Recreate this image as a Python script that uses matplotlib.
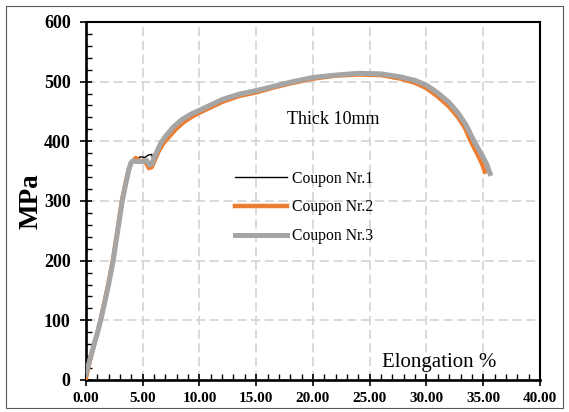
import matplotlib
matplotlib.use("Agg")
import matplotlib.pyplot as plt
from matplotlib.ticker import MultipleLocator, FormatStrFormatter
from matplotlib.patches import Rectangle

# ---- data ----
strain1 = [0, 0.25, 0.5, 0.75, 1.0, 1.3, 1.6, 2.0, 2.4, 2.8, 3.2, 3.5, 3.75, 3.95, 4.1, 4.4, 4.8, 5.2, 5.5,
           5.8, 5.95, 6.1, 6.4, 6.8, 7.2, 7.9, 8.6, 9.4, 10.0, 11.0, 12.0, 13.5, 15.0, 16.5, 18.0, 20.0,
           22.0, 24.0, 26.0, 27.7, 29.0, 30.0, 31.0, 32.0, 32.8, 33.5, 34.2, 34.8, 35.3, 35.5]
stress1 = [8, 26, 44, 62, 78, 100, 126, 162, 201, 251, 301, 329, 351, 364, 368, 369, 374, 373, 377,
           378, 366, 372, 386, 398, 408, 424, 436, 446, 451, 460, 469, 478, 485, 492, 499, 507,
           511, 514, 513, 508, 502, 494, 481, 465, 447, 427, 401, 381, 362, 352]

strain2 = [0, 0.25, 0.5, 0.75, 1.0, 1.3, 1.6, 2.0, 2.4, 2.8, 3.2, 3.5, 3.75, 3.95, 4.1, 4.4, 4.8, 5.1, 5.35,
           5.55, 5.8, 6.1, 6.4, 6.8, 7.2, 7.9, 8.6, 9.4, 10.0, 11.0, 12.0, 13.5, 15.0, 16.5, 18.0, 20.0,
           22.0, 24.0, 26.0, 27.7, 29.0, 30.0, 31.0, 32.0, 32.8, 33.4, 33.9, 34.5, 34.9, 35.15]
stress2 = [3, 25, 43, 61, 78, 101, 127, 163, 203, 253, 303, 330, 351, 363, 366, 372, 366, 368, 362,
           355, 357, 370, 383, 396, 405, 420, 432, 442, 448, 457, 466, 476, 482, 490, 497, 505,
           510, 512, 511, 505, 498, 489, 475, 458, 440, 422, 400, 378, 362, 349]

strain3 = [0, 0.25, 0.5, 0.75, 1.0, 1.3, 1.6, 2.0, 2.4, 2.8, 3.2, 3.5, 3.75, 3.95, 4.1, 4.5, 5.0, 5.35, 5.6,
           5.8, 6.0, 6.3, 6.6, 7.0, 7.7, 8.5, 9.3, 10.0, 11.0, 12.0, 13.5, 15.0, 16.5, 18.0, 20.0,
           22.0, 24.0, 26.0, 27.7, 29.0, 30.0, 31.0, 32.0, 32.8, 33.5, 34.2, 34.8, 35.3, 35.6]
stress3 = [10, 27, 45, 62, 78, 100, 125, 160, 200, 250, 300, 328, 350, 363, 367, 366, 366, 368, 360,
           362, 372, 385, 397, 408, 424, 437, 446, 452, 461, 470, 479, 485, 492, 499, 507,
           511, 514, 513, 508, 502, 494, 481, 465, 447, 427, 400, 380, 362, 346]

labels = ["Coupon Nr.1", "Coupon Nr.2", "Coupon Nr.3"]

plt.rcParams['font.family'] = ["Liberation Serif", "DejaVu Serif"]

fig = plt.figure(figsize=(5.69, 4.12), dpi=100)
ax = fig.add_axes([0.151, 0.0777, 0.798, 0.869])

ax.plot(strain1, stress1, color="black", lw=1.0, label=labels[0], zorder=2)
ax.plot(strain2, stress2, color="#ED7D31", lw=3.2, label=labels[1], zorder=3)
ax.plot(strain3, stress3, color="#A5A5A5", lw=3.6, label=labels[2], zorder=4)

ax.set_xlim(0, 40)
ax.set_ylim(0, 600)
ax.xaxis.set_major_locator(MultipleLocator(5))
ax.xaxis.set_minor_locator(MultipleLocator(1))
ax.yaxis.set_major_locator(MultipleLocator(100))
ax.yaxis.set_minor_locator(MultipleLocator(20))
ax.xaxis.set_major_formatter(FormatStrFormatter("%.2f"))

ax.grid(True, which="major", color="#D0D0D0", ls=(0, (6, 3)), lw=1.1)
ax.set_axisbelow(True)

ax.tick_params(which="major", direction="inout", length=8, width=1.2)
ax.tick_params(which="minor", direction="in", length=4.5, width=1.0)
ax.tick_params(axis="y", which="major", labelsize=13, pad=7)
ax.tick_params(axis="x", which="major", labelsize=11, pad=5)
for lab in ax.get_xticklabels() + ax.get_yticklabels():
    lab.set_fontweight("bold")

for side in ["left", "bottom"]:
    ax.spines[side].set_linewidth(1.9)
for side in ["top", "right"]:
    ax.spines[side].set_linewidth(1.5)

ax.set_ylabel("MPa", fontsize=19.5, fontweight="bold", labelpad=0)

ax.text(21.8, 437, "Thick 10mm", fontsize=13, ha="center", va="center")
ax.text(31.1, 30, "Elongation %", fontsize=15, ha="center", va="center")

ax.legend(loc="center left", bbox_to_anchor=(0.328, 0.482), frameon=False,
          fontsize=11.3, handlelength=3.3, handletextpad=0.32, labelspacing=0.82,
          borderpad=0, borderaxespad=0)

fig.patches.append(Rectangle((6 / 569, 4 / 412), 557 / 569, 402 / 412, transform=fig.transFigure,
                             fill=False, edgecolor="#595959", lw=0.8))

fig.savefig("out.png", dpi=100)
